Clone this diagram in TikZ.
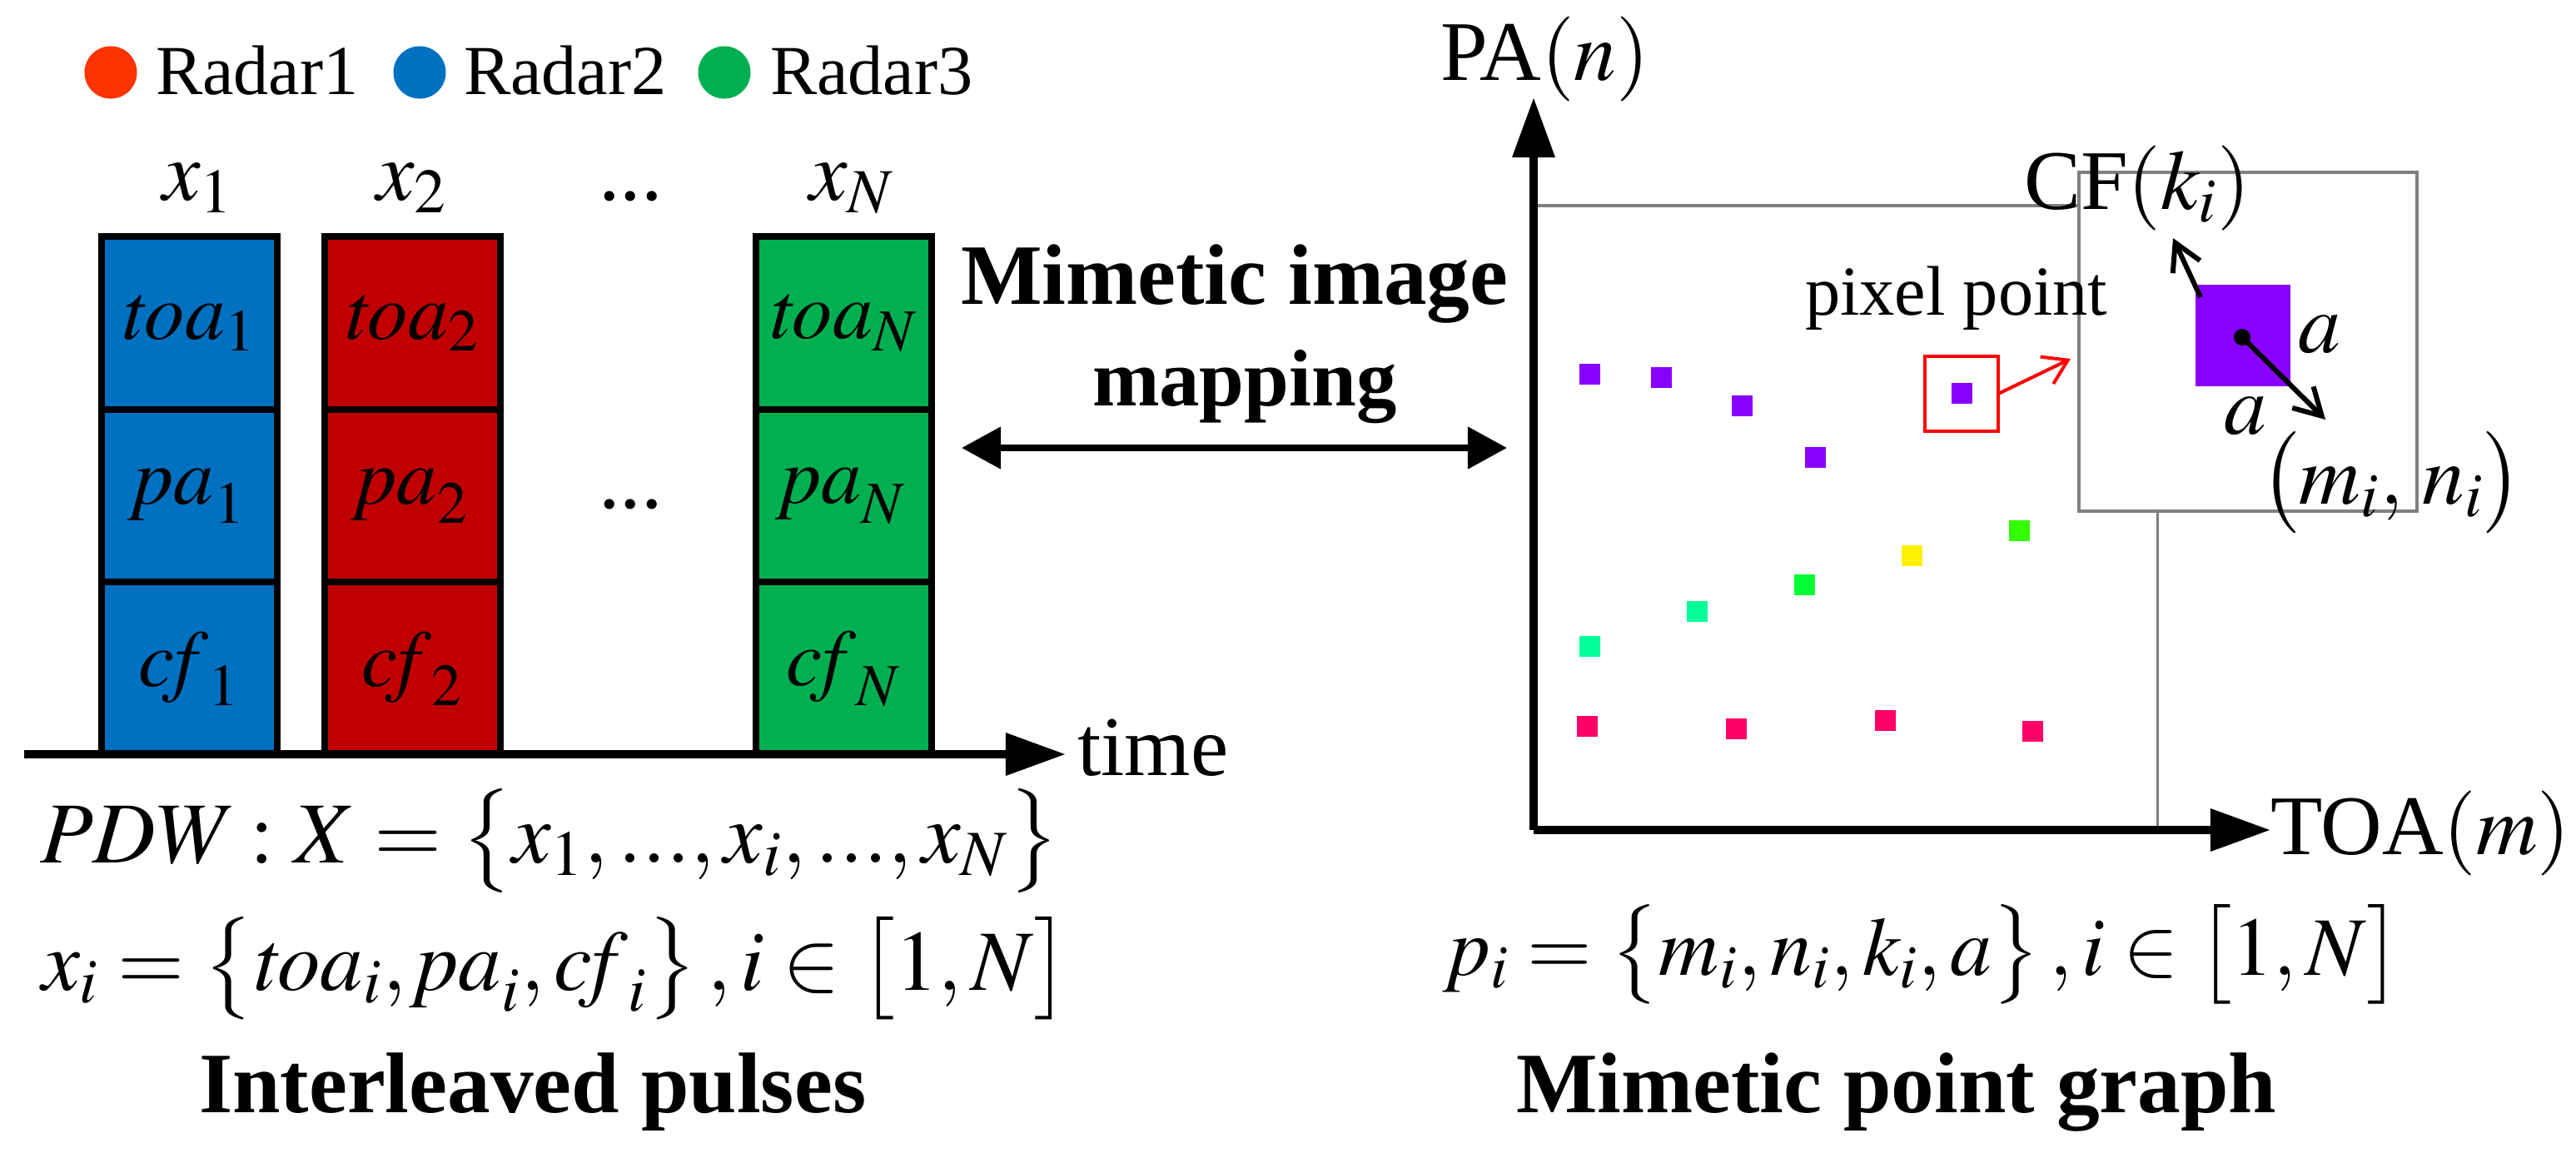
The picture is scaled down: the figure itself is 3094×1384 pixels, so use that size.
\documentclass[tikz,border=0pt]{standalone}
\usepackage{amsmath}
\usepackage{mathptmx}
\usepackage[no-math]{fontspec}
\setmainfont{Liberation Serif}
\usepackage{tikz}
\usepackage{xcolor}
\usetikzlibrary{arrows.meta}

\definecolor{radarred}{HTML}{FF3300}
\definecolor{radarblue}{HTML}{0070C0}
\definecolor{radargreen}{HTML}{00B050}
\definecolor{pulsered}{HTML}{C00000}
\definecolor{pixviolet}{HTML}{8800FF}
\definecolor{pixpink}{HTML}{FF0066}
\definecolor{pixlime}{HTML}{33FF00}
\definecolor{pixmint}{HTML}{00FF99}
\definecolor{pixgreen}{HTML}{00FF33}

\tikzset{
	txt/.style={inner sep=0pt,outer sep=0pt,anchor=base west,font=\fontsize{29}{33}\selectfont},
	legendtxt/.style={txt,font=\fontsize{24}{28}\selectfont},
	boldtxt/.style={txt,font=\fontsize{29.4}{33}\selectfont\bfseries},
	pulse/.style={draw=black,line width=8*0.2845pt,minimum width=2.11cm,minimum height=2.08cm,inner sep=0pt,outer sep=0pt,font=\fontsize{27.5}{31}\selectfont},
	radardot/.style={circle,minimum size=0.63cm,inner sep=0pt},
	axis/.style={line width=10*0.2845pt,-{Triangle[length=0.72cm,width=0.49cm]}},
	frameline/.style={draw=gray,line width=4*0.2845pt},
	barb/.style={line width=6*0.2845pt,-{Straight Barb[length=0.32cm,width=0.36cm,line width=6*0.2845pt]}}
}

\begin{document}
\begin{tikzpicture}[x=0.01cm,y=-0.01cm]
	\useasboundingbox (0,0) rectangle (3094,1384);
	% legend
	\node[radardot,fill=radarred] (dotA) at (133,87) {};
	\node[radardot,fill=radarblue] (dotB) at (504,87) {};
	\node[radardot,fill=radargreen] (dotC) at (870,87) {};
	\node[legendtxt] (radarA) at (187,113) {Radar1};
	\node[legendtxt] (radarB) at (557,113) {Radar2};
	\node[legendtxt] (radarC) at (925,113) {Radar3};
	% pulses
	\node[txt] (xA) at (195,240) {$x_1$};
	\node[txt] (xB) at (452,240) {$x_2$};
	\node[txt] (xdots) at (719,240) {...};
	\node[txt] (xN) at (972,240) {$x_N$};
	\node[pulse,fill=radarblue] (toaA) at (227.5,388) {$\mathit{toa}_1$};
	\node[pulse,fill=radarblue] (paA) at (227.5,596) {\raisebox{-7pt}{$\mathit{pa}_1$}};
	\node[pulse,fill=radarblue] (cfA) at (227.5,803) {$\mathit{cf}_1$};
	\node[pulse,fill=pulsered] (toaB) at (495.5,388) {$\mathit{toa}_2$};
	\node[pulse,fill=pulsered] (paB) at (495.5,596) {\raisebox{-7pt}{$\mathit{pa}_2$}};
	\node[pulse,fill=pulsered] (cfB) at (495.5,803) {$\mathit{cf}_2$};
	\node[txt] (pdots) at (719,610) {...};
	\node[pulse,fill=radargreen] (toaN) at (1013.5,388) {$\mathit{toa}_N$};
	\node[pulse,fill=radargreen] (paN) at (1013.5,596) {\raisebox{-7pt}{$\mathit{pa}_N$}};
	\node[pulse,fill=radargreen] (cfN) at (1013.5,803) {$\mathit{cf}_N$};
	\coordinate (tstart) at (29,906);
	\coordinate (tend) at (1280,906);
	\draw[axis] (tstart) -- (tend);
	\node[txt] (time) at (1294,931) {time};
	\node[txt,font=\fontsize{29.7}{33}\selectfont] (pdw) at (48,1036) {$\mathit{PDW}:X=\left\{\rule{0pt}{25pt}x_1,...,x_i,...,x_N\right\}$};
	\node[txt,font=\fontsize{29.3}{33}\selectfont] (xi) at (50,1189) {$x_i=\left\{\rule{0pt}{25pt}\mathit{toa}_i,\mathit{pa}_i,\mathit{cf}_i\right\},i\in\left[\rule{0pt}{25pt}1,N\right]$};
	\node[boldtxt] (leftcap) at (239,1336) {Interleaved pulses};
	% mapping
	\node[boldtxt] (mapA) at (1154,365) {Mimetic image};
	\node[boldtxt,font=\fontsize{27.5}{33}\selectfont\bfseries] (mapB) at (1312,487) {mapping};
	\coordinate (mapL) at (1155,538);
	\coordinate (mapR) at (1810,538);
	\draw[line width=8*0.2845pt,{Triangle[length=0.47cm,width=0.49cm]}-{Triangle[length=0.47cm,width=0.49cm]}] (mapL) -- (mapR);
	% mimetic point graph
	\draw[frameline] (1842,247) -- (2497,247);
	\draw[frameline,line width=3*0.2845pt] (2591,614) -- (2591,997);
	\draw[frameline] (2497,207) rectangle (2903,614);
	\coordinate (origin) at (1842,997);
	\coordinate (ytip) at (1842,117);
	\coordinate (xtip) at (2727,997);
	\draw[axis] (origin) -- (ytip);
	\draw[axis] (origin) -- (xtip);
	\node[txt] (palabel) at (1730,96) {PA$\left(\rule{0pt}{21pt}n\right)$};
	\node[txt] (toalabel) at (2727,1026) {TOA$\left(\rule{0pt}{21pt}m\right)$};
	\fill[pixviolet] (1897,437) rectangle ++(25,25);
	\fill[pixviolet] (1983,441) rectangle ++(25,25);
	\fill[pixviolet] (2080,475) rectangle ++(25,25);
	\fill[pixviolet] (2168,537) rectangle ++(25,25);
	\fill[pixviolet] (2344,460) rectangle ++(25,25);
	\fill[pixlime] (2413,625) rectangle ++(25,25);
	\fill[yellow] (2284,655) rectangle ++(25,25);
	\fill[pixgreen] (2155,690) rectangle ++(25,25);
	\fill[pixmint] (2026,722) rectangle ++(25,25);
	\fill[pixmint] (1897,764) rectangle ++(25,25);
	\fill[pixpink] (1894,860) rectangle ++(25,25);
	\fill[pixpink] (2073,863) rectangle ++(25,25);
	\fill[pixpink] (2252,853) rectangle ++(25,25);
	\fill[pixpink] (2429,866) rectangle ++(25,25);
	\node[draw=red,line width=4*0.2845pt,minimum width=0.88cm,minimum height=0.9cm,inner sep=0pt,outer sep=0pt] (pixbox) at (2356,473) {};
	\coordinate (pixend) at (2487,431);
	\draw[red,line width=4*0.2845pt,-{Straight Barb[length=0.28cm,width=0.36cm]}] (pixbox.east) -- (pixend);
	\node[legendtxt] (pixlabel) at (2168,378) {pixel point};
	\node[fill=pixviolet,minimum width=1.14cm,minimum height=1.22cm,inner sep=0pt,outer sep=0pt] (bigpix) at (2694,403) {};
	\coordinate (bigc) at (2693,405);
	\coordinate (cfstart) at (2643,357);
	\coordinate (cfend) at (2610,286);
	\coordinate (mnend) at (2793,504);
	\fill (bigc) circle (10);
	\draw[barb] (cfstart) -- (cfend);
	\draw[barb] (bigc) -- (mnend);
	\node[txt] (alabelA) at (2760,423) {$a$};
	\node[txt] (alabelB) at (2671,521) {$a$};
	\node[txt] (cflabel) at (2431,251) {CF$\left(\rule{0pt}{20pt}k_i\right)$};
	\node[txt] (mnlabel) at (2715,605) {$\left(\rule{0pt}{24pt}m_i,\,n_i\right)$};
	\node[txt,font=\fontsize{28.4}{33}\selectfont] (pi) at (1733,1171) {$p_i=\left\{\rule{0pt}{24pt}m_i,n_i,k_i,a\right\},i\in\left[\rule{0pt}{24pt}1,N\right]$};
	\node[boldtxt] (rightcap) at (1821,1336) {Mimetic point graph};
\end{tikzpicture}
\end{document}
